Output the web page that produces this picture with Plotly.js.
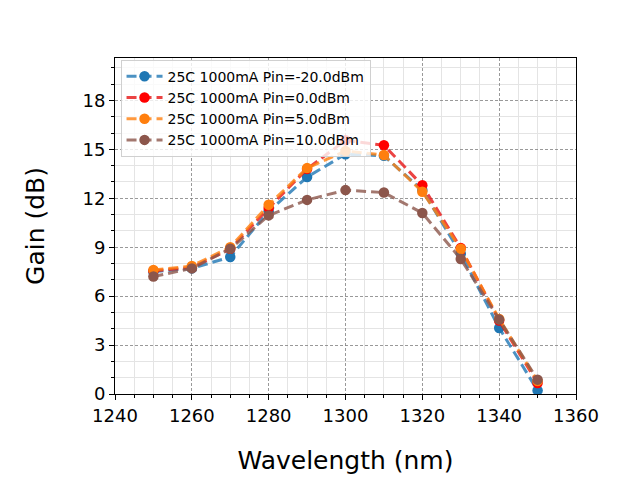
<!DOCTYPE html>
<html>
<head>
<meta charset="utf-8">
<script src="https://cdn.plot.ly/plotly-3.0.1.min.js"></script>
<style>html,body{margin:0;padding:0;background:#fff;}#chart{width:640px;height:480px;}</style>
</head>
<body>
<div id="chart"></div>
<script>
const wavelengths = [1250, 1260, 1270, 1280, 1290, 1300, 1310, 1320, 1330, 1340, 1350];
const gainPinM20 = [7.5, 7.7, 8.4, 11.2, 13.3, 14.7, 14.6, 12.5, 8.6, 4.05, 0.22];
const gainPin0 = [7.55, 7.75, 8.9, 11.4, 13.8, 15.55, 15.25, 12.8, 8.95, 4.5, 0.67];
const gainPin5 = [7.6, 7.85, 9.0, 11.6, 13.85, 14.9, 14.65, 12.4, 8.9, 4.6, 0.8];
const gainPin10 = [7.2, 7.7, 8.9, 10.95, 11.9, 12.5, 12.35, 11.1, 8.28, 4.56, 0.88];
const seriesNames = ["25C 1000mA Pin=-20.0dBm", "25C 1000mA Pin=0.0dBm", "25C 1000mA Pin=5.0dBm", "25C 1000mA Pin=10.0dBm"];
const seriesColors = ["#1f77b4", "#ff0000", "#ff7f0e", "#8c564b"];
const lineColors = ["rgba(31,119,180,0.8)", "rgba(230,20,20,0.8)", "rgba(255,127,14,0.8)", "rgba(140,86,75,0.8)"];
const seriesValues = [gainPinM20, gainPin0, gainPin5, gainPin10];

const traces = seriesValues.map((vals, i) => ({
  x: wavelengths,
  y: vals,
  name: seriesNames[i],
  type: "scatter",
  mode: "lines+markers",
  line: {color: lineColors[i], width: 3, dash: "10px,5px"},
  marker: {color: seriesColors[i], size: 10.5}
}));

const axisCommon = {
  showline: true, mirror: true, linecolor: "#000", linewidth: 1,
  ticks: "outside", ticklen: 5, tickwidth: 1, tickcolor: "#000",
  showgrid: true, gridcolor: "#808080", gridwidth: 0.8, griddash: "3px,2px",
  zeroline: false,
  tickfont: {family: "DejaVu Sans", size: 18, color: "#000"}
};
const minorCommon = {ticks: "outside", ticklen: 3, tickcolor: "#000", showgrid: true, gridcolor: "#e4e4e4", gridwidth: 1, griddash: "solid"};

const layout = {
  width: 640, height: 480,
  paper_bgcolor: "#fff", plot_bgcolor: "#fff",
  margin: {l: 115, r: 64, t: 58, b: 86},
  font: {family: "DejaVu Sans", color: "#000"},
  showlegend: true,
  legend: {
    x: 0.012, y: 0.995, xanchor: "left", yanchor: "top",
    bgcolor: "rgba(255,255,255,0.8)", bordercolor: "#d0d0d0", borderwidth: 1,
    font: {family: "DejaVu Sans", size: 14, color: "#000"},
    itemwidth: 36,
    tracegroupgap: 0
  },
  xaxis: Object.assign({}, axisCommon, {
    range: [1240, 1360], dtick: 20, tick0: 1240,
    title: {text: "Wavelength (nm)", font: {family: "DejaVu Sans", size: 25, color: "#000"}, standoff: 26},
    minor: Object.assign({dtick: 5}, minorCommon)
  }),
  yaxis: Object.assign({}, axisCommon, {
    range: [0, 20.6], dtick: 3, tick0: 0,
    title: {text: "Gain (dB)", font: {family: "DejaVu Sans", size: 25, color: "#000"}, standoff: 30},
    minor: Object.assign({dtick: 1}, minorCommon)
  })
};

Plotly.newPlot("chart", traces, layout, {staticPlot: true, displayModeBar: false});
</script>
</body>
</html>
